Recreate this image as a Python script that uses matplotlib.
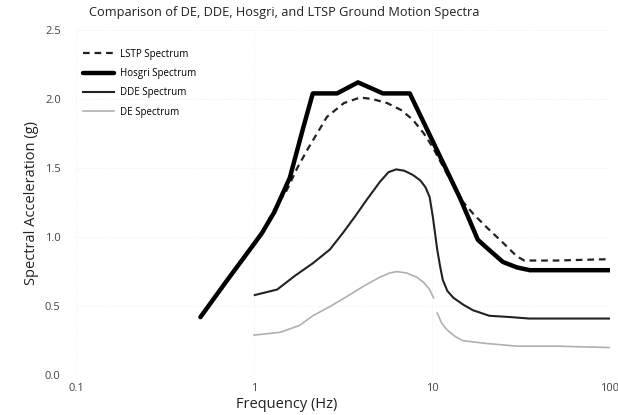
import numpy as np
import matplotlib
matplotlib.use("Agg")
import matplotlib.pyplot as plt

plt.rcParams['font.family'] = ['Open Sans', 'DejaVu Sans']

# Hosgri spectrum (thick black)
hos_f = [0.50, 0.7, 1.0, 1.11, 1.3, 1.59, 1.88, 2.14, 2.93, 3.84, 5.3, 7.5, 14.4, 18.1, 20.0, 25.0, 30.0, 35.5, 100.0]
hos_a = [0.42, 0.68, 0.95, 1.03, 1.18, 1.43, 1.78, 2.04, 2.04, 2.12, 2.04, 2.04, 1.28, 0.98, 0.93, 0.82, 0.78, 0.76, 0.76]

# LSTP spectrum (dashed)
lstp_f = [1.12, 1.3, 1.53, 1.75, 1.99, 2.57, 3.2, 3.94, 4.6, 5.6, 6.7, 7.8, 9.0, 10.1, 12.0, 14.6, 17.0, 20.3, 25.0, 30.0, 33.0, 50.0, 100.0]
lstp_a = [1.04, 1.20, 1.34, 1.50, 1.63, 1.87, 1.97, 2.01, 2.00, 1.97, 1.92, 1.85, 1.75, 1.65, 1.47, 1.27, 1.17, 1.07, 0.96, 0.86, 0.83, 0.83, 0.84]

# DDE spectrum (thin black)
dde_f = [1.01, 1.35, 1.7, 2.14, 2.67, 3.16, 3.7, 4.3, 5.1, 5.7, 6.3, 7.0, 7.8, 8.6, 9.2, 9.7, 10.1, 10.4, 10.7,
         11.1, 11.5, 12.2, 13.2, 15.0, 17.0, 21.0, 28.0, 35.0, 100.0]
dde_a = [0.58, 0.62, 0.72, 0.81, 0.91, 1.03, 1.15, 1.27, 1.40, 1.47, 1.49, 1.48, 1.45, 1.41, 1.36, 1.29, 1.15, 1.03, 0.91,
         0.79, 0.69, 0.61, 0.56, 0.51, 0.47, 0.43, 0.42, 0.41, 0.41]

# DE spectrum (light gray, small break near 10 Hz)
de_f = [1.0, 1.4, 1.8, 2.14, 2.7, 3.33, 4.2, 5.1, 5.8, 6.35, 7.2, 8.2, 9.0, 9.7, 10.2, 10.45,
        10.7, 11.3, 12.1, 13.5, 14.9, 20.0, 30.0, 50.0, 100.0]
de_a = [0.29, 0.31, 0.36, 0.43, 0.50, 0.57, 0.65, 0.71, 0.74, 0.75, 0.74, 0.71, 0.67, 0.62, 0.56, np.nan,
        0.45, 0.38, 0.33, 0.28, 0.25, 0.23, 0.21, 0.21, 0.20]

xticks = [0.1, 1, 10, 100]
xtick_labels = ['0.1', '1', '10', '100']
yticks = [0.0, 0.5, 1.0, 1.5, 2.0, 2.5]

fig = plt.figure(figsize=(6.18, 4.15), dpi=100)
ax = fig.add_axes([0.123, 0.096, 0.864, 0.832])

ax.plot(lstp_f, lstp_a, color='#222222', lw=1.6, ls=(0, (3, 2.2)), label='LSTP Spectrum')
ax.plot(hos_f, hos_a, color='black', lw=3.2, solid_capstyle='round', solid_joinstyle='round',
        label='Hosgri Spectrum')
ax.plot(dde_f, dde_a, color='#222222', lw=1.5, label='DDE Spectrum')
ax.plot(de_f, de_a, color='#b0b0b0', lw=1.2, label='DE Spectrum')

ax.set_xscale('log')
ax.set_xlim(0.1, 100)
ax.set_ylim(0, 2.5)
ax.set_xticks(xticks)
ax.set_xticklabels(xtick_labels)
ax.minorticks_off()
ax.set_yticks(yticks)
ax.set_yticklabels(['%.1f' % v for v in yticks])
ax.tick_params(length=0, labelsize=8, colors='#444444')
ax.tick_params(axis='y', pad=11)
ax.tick_params(axis='x', pad=6)
for s in ax.spines.values():
    s.set_visible(False)
ax.grid(True, color='#d8d8d8', ls=':', lw=0.6, alpha=0.5)

fig.text(0.46, 0.971, 'Comparison of DE, DDE, Hosgri, and LTSP Ground Motion Spectra',
         fontsize=9.2, color='#222222', ha='center', va='center')
ax.set_xlabel('Frequency (Hz)', fontsize=10.5, color='#222222')
ax.xaxis.set_label_coords(0.395, -0.062)
ax.set_ylabel('Spectral Acceleration (g)', fontsize=10.5, color='#222222', labelpad=4)

ax.legend(loc='upper left', bbox_to_anchor=(0.0, 0.965), frameon=False, fontsize=7,
          handlelength=3.2, handletextpad=0.6, labelspacing=0.85, borderaxespad=0.3)

fig.savefig('out.png', dpi=100)
